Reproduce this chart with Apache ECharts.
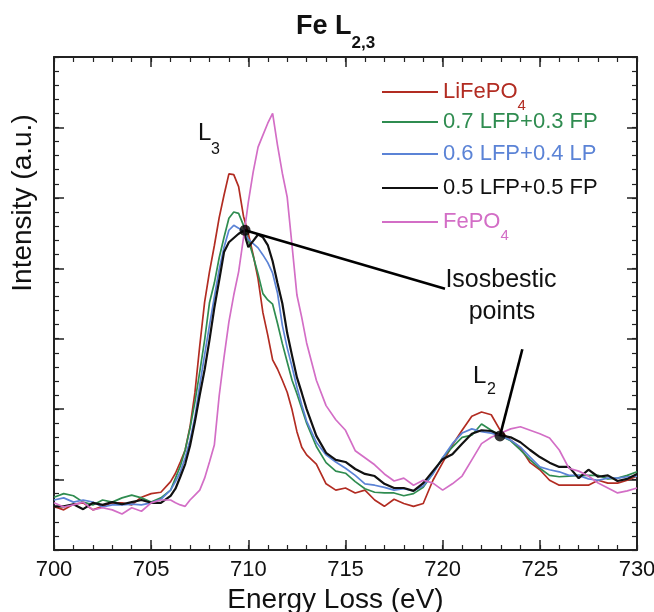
<!DOCTYPE html>
<html>
<head>
<meta charset="utf-8">
<script src="https://cdn.jsdelivr.net/npm/echarts@6/dist/echarts.min.js"></script>
<style>html,body{margin:0;padding:0;background:#fff}#c{width:654px;height:612px}</style>
</head>
<body>
<div id="c"></div>
<script>
// Energy loss grid (eV)
const energy = [
  700,700.5,701,701.5,702,702.5,703,703.5,704,704.5,705,705.5,
  706,706.25,706.5,706.75,707,707.25,707.5,707.75,708,708.25,708.5,708.75,709,709.25,709.5,709.75,
  710,710.25,710.5,710.75,711,711.25,711.5,711.75,712,712.25,712.5,712.75,713,
  713.5,714,714.5,715,715.5,716,716.5,717,717.5,718,718.5,719,719.5,720,720.5,721,721.5,722,722.5,
  723,723.5,724,724.5,725,725.5,726,726.5,727,727.5,728,728.5,729,729.5,730
];
// Intensities (a.u.)
const lifepo4 = [
  0.62,0.57,0.65,0.67,0.57,0.62,0.67,0.67,0.64,0.75,0.80,0.82,
  0.97,1.09,1.25,1.42,1.75,2.23,2.90,3.52,3.95,4.32,4.72,5.04,5.34,5.33,5.16,4.74,
  4.49,4.19,3.85,3.37,3.05,2.70,2.57,2.41,2.24,1.99,1.68,1.46,1.35,
  1.22,0.94,0.85,0.88,0.81,0.85,0.71,0.62,0.72,0.66,0.62,0.66,0.99,1.24,1.49,1.70,1.90,1.96,1.92,
  1.68,1.56,1.45,1.24,1.14,0.99,0.92,0.92,0.92,0.92,0.99,0.95,0.95,0.99,1.05
];
const lfp07fp03 = [
  0.75,0.80,0.77,0.68,0.64,0.71,0.68,0.74,0.78,0.74,0.68,0.74,
  0.85,1.02,1.19,1.42,1.73,2.10,2.53,2.98,3.51,3.79,4.15,4.44,4.71,4.80,4.78,4.61,
  4.40,4.17,3.92,3.64,3.55,3.49,3.22,2.93,2.67,2.41,2.22,2.01,1.80,
  1.47,1.24,1.12,1.09,0.97,0.87,0.82,0.81,0.81,0.77,0.80,0.89,1.09,1.31,1.46,1.60,1.63,1.79,1.70,
  1.62,1.55,1.42,1.28,1.16,1.06,1.04,1.05,1.06,1.06,1.06,1.01,1.02,1.06,1.11
];
const lfp06lp04 = [
  0.71,0.74,0.68,0.71,0.68,0.61,0.64,0.64,0.65,0.64,0.67,0.72,
  0.85,0.97,1.11,1.31,1.56,1.89,2.34,2.77,3.19,3.59,3.98,4.30,4.54,4.61,4.57,4.52,
  4.41,4.35,4.29,4.19,4.08,3.93,3.65,3.19,2.87,2.60,2.31,2.06,1.83,
  1.53,1.35,1.25,1.16,1.06,0.94,0.92,0.89,0.85,0.87,0.84,0.91,1.08,1.31,1.51,1.66,1.72,1.68,1.66,
  1.62,1.56,1.46,1.32,1.18,1.14,1.11,1.06,1.06,1.01,0.99,1.02,1.02,1.04,1.05
];
const lfp05fp05 = [
  0.62,0.62,0.65,0.58,0.67,0.64,0.68,0.65,0.68,0.71,0.67,0.67,
  0.77,0.87,1.04,1.22,1.48,1.82,2.20,2.56,2.98,3.44,3.83,4.23,4.37,4.43,4.49,4.53,
  4.30,4.39,4.48,4.44,4.33,4.10,3.79,3.50,3.08,2.76,2.45,2.23,2.00,
  1.62,1.38,1.28,1.25,1.15,1.08,1.05,0.94,0.88,0.88,0.84,0.95,1.12,1.29,1.36,1.51,1.65,1.70,1.69,
  1.63,1.60,1.53,1.42,1.32,1.24,1.18,1.18,1.02,1.14,1.04,1.06,0.98,1.01,1.08
];
const fepo4 = [
  0.67,0.61,0.64,0.68,0.57,0.60,0.57,0.51,0.60,0.55,0.67,0.71,
  0.71,0.67,0.64,0.62,0.71,0.78,0.85,1.02,1.25,1.49,2.19,2.74,3.24,3.62,3.95,4.43,
  4.94,5.37,5.72,5.89,6.06,6.20,5.75,5.35,5.01,4.32,3.62,3.30,2.94,
  2.41,2.05,1.85,1.70,1.41,1.31,1.21,1.08,0.98,1.02,0.92,0.99,0.95,0.85,0.94,1.05,1.28,1.51,1.60,
  1.66,1.72,1.75,1.70,1.65,1.59,1.42,1.16,1.12,1.05,0.95,0.88,0.81,0.84,0.88
];
const seriesNames = ['LiFePO4','0.7 LFP+0.3 FP','0.6 LFP+0.4 LP','0.5 LFP+0.5 FP','FePO4'];
const seriesColors = ['#b22c22','#2f8c50','#5b83d6','#111111','#d36ec6'];
const seriesData = [lifepo4, lfp07fp03, lfp06lp04, lfp05fp05, fepo4];
// Isosbestic points and pointer ends [eV, intensity]
const isoPoints = [[709.83,4.54],[722.95,1.62]];
const pointerEnds = [[720.12,3.71],[724.1,2.85]];
const xTickValues = [700,705,710,715,720,725,730];

const FONT = "'Liberation Sans', Arial, Helvetica, sans-serif";
const chart = echarts.init(document.getElementById('c'), null, {renderer:'canvas'});

const legendRowY = [91, 121, 153, 187, 221];
const legends = seriesNames.map((n,i)=>{
  const col = seriesColors[i];
  return {
    left: 381, top: legendRowY[i] - 10, padding: 0,
    orient: 'vertical', itemWidth: 56, itemHeight: 14, itemGap: 0,
    selectedMode: false,
    itemStyle: {opacity: 0},
    data: [n],
    formatter: function(name){
      if (name === 'LiFePO4') return '{a|LiFePO}{s|4}';
      if (name === 'FePO4') return '{a|FePO}{s|4}';
      return '{a|' + name + '}';
    },
    textStyle: {
      color: col, fontFamily: FONT, fontSize: 22,
      rich: {
        a: {color: col, fontFamily: FONT, fontSize: 22, lineHeight: 26, verticalAlign: 'middle'},
        s: {color: col, fontFamily: FONT, fontSize: 15, verticalAlign: 'bottom', padding: [28,0,0,0]}
      }
    }
  };
});

const axisLineStyle = {color: '#222', width: 2};
function xAx(pos, showLabel){
  return {
    type: 'value', position: pos, min: 700, max: 730, interval: 5,
    axisLine: {show: true, onZero: false, lineStyle: axisLineStyle},
    axisTick: {show: true, inside: true, length: 10, lineStyle: {color:'#222', width: 1.5}},
    splitLine: {show: false},
    axisLabel: {show: showLabel, margin: 9, fontSize: 22, color: '#111', fontFamily: FONT,
      customValues: xTickValues},
    name: showLabel ? 'Energy Loss (eV)' : '',
    nameLocation: 'middle', nameGap: 35,
    nameTextStyle: {fontSize: 28, color: '#111', fontFamily: FONT, padding: [0,20,0,0]}
  };
}
function xMinor(pos){
  return {
    type: 'value', position: pos, min: 700, max: 730, interval: 1,
    axisLine: {show: false, onZero: false},
    axisTick: {show: true, inside: true, length: 5, lineStyle: {color:'#222', width: 1.2}},
    splitLine: {show: false}, axisLabel: {show: false}
  };
}
function yAx(pos){
  return {
    type: 'value', position: pos, min: 0, max: 7, interval: 1,
    axisLine: {show: true, onZero: false, lineStyle: axisLineStyle},
    axisTick: {show: true, inside: true, length: 10, lineStyle: {color:'#222', width: 1.5}},
    splitLine: {show: false},
    axisLabel: {show: false}
  };
}
function yMinor(pos){
  return {
    type: 'value', position: pos, min: 0, max: 7, interval: 0.2,
    axisLine: {show: false, onZero: false},
    axisTick: {show: true, inside: true, length: 5, lineStyle: {color:'#222', width: 1.2}},
    splitLine: {show: false}, axisLabel: {show: false}
  };
}

const series = seriesNames.map((n,i)=>({
  name: n, type: 'line', xAxisIndex: 0, yAxisIndex: 0,
  data: energy.map((e,k)=>[e, seriesData[i][k]]),
  symbol: 'none', smooth: false, silent: true,
  lineStyle: {color: seriesColors[i], width: i === 3 ? 2.2 : 1.7},
  itemStyle: {color: seriesColors[i]},
  z: 2 + i
}));
isoPoints.forEach((p,i)=>{
  series.push({
    name: 'pointer' + i, type: 'line', xAxisIndex: 0, yAxisIndex: 0,
    data: [p, pointerEnds[i]], symbol: 'none', silent: true,
    lineStyle: {color: '#000', width: 2.6}, z: 10
  });
});
series.push({
  name: 'isosbestic', type: 'scatter', xAxisIndex: 0, yAxisIndex: 0,
  data: isoPoints, symbol: 'circle', symbolSize: 11, silent: true,
  itemStyle: {color: '#000'}, z: 11
});

const option = {
  backgroundColor: '#fff',
  animation: false,
  textStyle: {fontFamily: FONT},
  title: {
    text: '{a|Fe L}{s|2,3}', left: 296, top: 1, padding: 0,
    textStyle: {
      fontFamily: FONT, fontWeight: 'bold', fontSize: 27, color: '#111',
      rich: {
        a: {fontFamily: FONT, fontWeight: 'bold', fontSize: 27, color: '#111', lineHeight: 30, verticalAlign: 'middle'},
        s: {fontFamily: FONT, fontWeight: 'bold', fontSize: 17, color: '#111', verticalAlign: 'bottom', padding: [34,0,0,0]}
      }
    }
  },
  legend: legends,
  grid: {left: 54, right: 17, top: 57, bottom: 62, containLabel: false, outerBoundsMode: 'none'},
  xAxis: [xAx('bottom', true), xAx('top', false), xMinor('bottom'), xMinor('top')],
  yAxis: [yAx('left'), yAx('right'), yMinor('left'), yMinor('right')],
  graphic: [
    {type: 'text', rotation: Math.PI/2, x: 23, y: 203, silent: true,
      style: {text: 'Intensity (a.u.)', fontSize: 28, fontFamily: FONT, fill: '#111', align: 'center', verticalAlign: 'middle'}},
    {type: 'text', x: 198, y: 133, silent: true,
      style: {text: 'L', fontSize: 24, fontFamily: FONT, fill: '#111', align: 'left', verticalAlign: 'middle'}},
    {type: 'text', x: 211, y: 150, silent: true,
      style: {text: '3', fontSize: 16, fontFamily: FONT, fill: '#111', align: 'left', verticalAlign: 'middle'}},
    {type: 'text', x: 473, y: 376, silent: true,
      style: {text: 'L', fontSize: 24, fontFamily: FONT, fill: '#111', align: 'left', verticalAlign: 'middle'}},
    {type: 'text', x: 487, y: 390, silent: true,
      style: {text: '2', fontSize: 16, fontFamily: FONT, fill: '#111', align: 'left', verticalAlign: 'middle'}},
    {type: 'text', x: 501, y: 280, silent: true,
      style: {text: 'Isosbestic', fontSize: 25, fontFamily: FONT, fill: '#111', align: 'center', verticalAlign: 'middle'}},
    {type: 'text', x: 502, y: 312, silent: true,
      style: {text: 'points', fontSize: 25, fontFamily: FONT, fill: '#111', align: 'center', verticalAlign: 'middle'}}
  ],
  series: series
};
chart.setOption(option);
</script>
</body>
</html>
